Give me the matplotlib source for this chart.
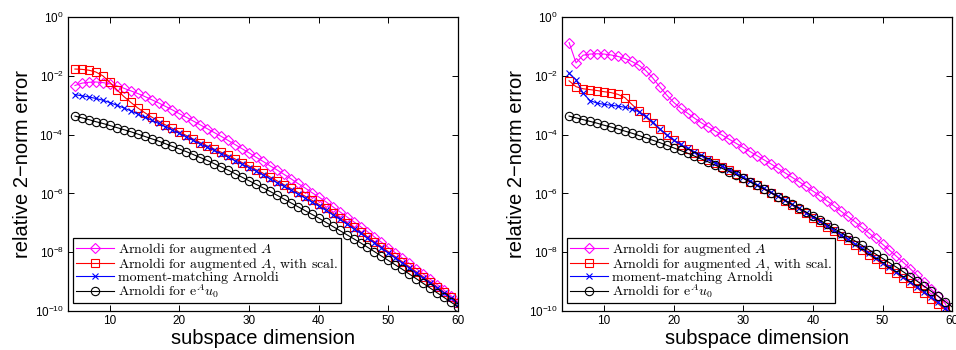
import numpy as np
import matplotlib
matplotlib.use("Agg")
import matplotlib.pyplot as plt
from matplotlib.ticker import NullLocator, FixedLocator
from matplotlib.font_manager import FontProperties

plt.rcParams['font.family'] = ['Liberation Sans', 'DejaVu Sans']
plt.rcParams['mathtext.fontset'] = 'custom'
plt.rcParams['mathtext.rm'] = 'Liberation Sans'
plt.rcParams['mathtext.it'] = 'Liberation Sans:italic'

# subspace dimension
dims = list(range(5, 61))

# log10 of relative 2-norm error (n = 5 ... 60)
left_aug = [-2.33, -2.25, -2.22, -2.21, -2.23, -2.27, -2.34, -2.42, -2.51, -2.60,
            -2.70, -2.81, -2.92, -3.04, -3.16, -3.29, -3.41, -3.54, -3.67, -3.80,
            -3.93, -4.06, -4.20, -4.34, -4.48, -4.62, -4.77, -4.91, -5.06, -5.20,
            -5.35, -5.50, -5.66, -5.81, -5.97, -6.12, -6.28, -6.45, -6.62, -6.79,
            -6.96, -7.13, -7.30, -7.48, -7.66, -7.84, -8.02, -8.20, -8.38, -8.56,
            -8.74, -8.92, -9.10, -9.29, -9.48, -9.68]
left_scal = [-1.77, -1.78, -1.81, -1.87, -2.00, -2.22, -2.47, -2.70, -2.90, -3.09,
             -3.25, -3.40, -3.54, -3.67, -3.79, -3.91, -4.03, -4.15, -4.27, -4.38,
             -4.49, -4.60, -4.71, -4.83, -4.95, -5.07, -5.19, -5.31, -5.44, -5.57,
             -5.70, -5.83, -5.96, -6.09, -6.23, -6.37, -6.51, -6.67, -6.83, -6.99,
             -7.15, -7.31, -7.47, -7.64, -7.81, -7.98, -8.15, -8.32, -8.49, -8.66,
             -8.83, -9.00, -9.18, -9.36, -9.54, -9.72]
left_mm = [-2.64, -2.68, -2.72, -2.77, -2.83, -2.91, -3.00, -3.09, -3.19, -3.30,
           -3.40, -3.51, -3.62, -3.73, -3.85, -3.96, -4.08, -4.20, -4.32, -4.43,
           -4.54, -4.65, -4.77, -4.89, -5.01, -5.12, -5.24, -5.37, -5.50, -5.63,
           -5.76, -5.89, -6.02, -6.15, -6.29, -6.43, -6.57, -6.72, -6.88, -7.04,
           -7.20, -7.36, -7.52, -7.68, -7.85, -8.02, -8.19, -8.36, -8.53, -8.70,
           -8.87, -9.04, -9.21, -9.39, -9.57, -9.75]
left_exp = [-3.37, -3.43, -3.49, -3.56, -3.62, -3.69, -3.76, -3.83, -3.90, -3.98,
            -4.06, -4.14, -4.22, -4.31, -4.40, -4.49, -4.58, -4.68, -4.78, -4.88,
            -4.99, -5.10, -5.21, -5.33, -5.45, -5.57, -5.69, -5.81, -5.93, -6.06,
            -6.19, -6.32, -6.45, -6.58, -6.71, -6.84, -6.98, -7.12, -7.26, -7.40,
            -7.54, -7.68, -7.83, -7.98, -8.13, -8.28, -8.43, -8.58, -8.74, -8.90,
            -9.06, -9.22, -9.38, -9.54, -9.70, -9.86]

right_aug = [-0.87, -1.56, -1.30, -1.26, -1.25, -1.26, -1.29, -1.34, -1.41, -1.51,
             -1.64, -1.82, -2.07, -2.37, -2.65, -2.90, -3.10, -3.27, -3.44, -3.60,
             -3.74, -3.88, -4.02, -4.16, -4.30, -4.44, -4.58, -4.72, -4.86, -5.00,
             -5.15, -5.30, -5.45, -5.60, -5.76, -5.92, -6.08, -6.25, -6.42, -6.60,
             -6.78, -6.96, -7.15, -7.34, -7.53, -7.73, -7.93, -8.14, -8.35, -8.57,
             -8.79, -9.02, -9.26, -9.50, -9.75, -10.25]
right_scal = [-2.17, -2.37, -2.44, -2.47, -2.50, -2.54, -2.57, -2.63, -2.74, -2.97,
              -3.19, -3.41, -3.61, -3.82, -4.02, -4.20, -4.35, -4.49, -4.61, -4.73,
              -4.85, -4.97, -5.09, -5.21, -5.34, -5.47, -5.60, -5.73, -5.86, -5.99,
              -6.12, -6.26, -6.40, -6.54, -6.68, -6.83, -6.98, -7.14, -7.29, -7.44,
              -7.60, -7.76, -7.92, -8.08, -8.24, -8.40, -8.56, -8.72, -8.89, -9.06,
              -9.23, -9.40, -9.58, -9.76, -9.95, -10.25]
right_mm = [-1.92, -2.13, -2.59, -2.84, -2.93, -2.97, -3.00, -3.03, -3.07, -3.13,
            -3.22, -3.38, -3.58, -3.80, -4.00, -4.18, -4.33, -4.47, -4.59, -4.71,
            -4.83, -4.95, -5.07, -5.19, -5.31, -5.44, -5.57, -5.70, -5.83, -5.96,
            -6.09, -6.23, -6.37, -6.51, -6.65, -6.80, -6.95, -7.10, -7.25, -7.40,
            -7.55, -7.71, -7.87, -8.03, -8.19, -8.35, -8.51, -8.67, -8.84, -9.01,
            -9.18, -9.35, -9.53, -9.71, -9.90, -10.25]
right_exp = [-3.37, -3.43, -3.49, -3.55, -3.61, -3.68, -3.74, -3.81, -3.88, -3.95,
             -4.03, -4.11, -4.19, -4.27, -4.36, -4.45, -4.54, -4.63, -4.73, -4.83,
             -4.93, -5.04, -5.15, -5.26, -5.37, -5.49, -5.61, -5.73, -5.85, -5.98,
             -6.11, -6.24, -6.37, -6.50, -6.63, -6.77, -6.91, -7.05, -7.19, -7.33,
             -7.47, -7.61, -7.76, -7.91, -8.06, -8.21, -8.36, -8.51, -8.67, -8.83,
             -8.99, -9.16, -9.33, -9.50, -9.68, -9.86]

labels = ['Arnoldi for augmented $A$',
          'Arnoldi for augmented $A$, with scal.',
          'moment-matching Arnoldi',
          r'Arnoldi for e$^{A}u_0$']
styles = [dict(color='#FF00FF', marker='D', ms=5.5, mfc='none'),
          dict(color='#FF0000', marker='s', ms=5.5, mfc='none'),
          dict(color='#0000FF', marker='x', ms=4.5),
          dict(color='#000000', marker='o', ms=6, mfc='none')]

fig = plt.figure(figsize=(9.56, 3.5), dpi=100)
ax1 = fig.add_axes([0.0711, 0.1114, 0.408, 0.84])
ax2 = fig.add_axes([0.588, 0.1114, 0.408, 0.84])

leg_font = FontProperties(family='cmr10', size=10, math_fontfamily='cm')

for ax, series in [(ax1, [left_aug, left_scal, left_mm, left_exp]),
                   (ax2, [right_aug, right_scal, right_mm, right_exp])]:
    for vals, lab, st in zip(series, labels, styles):
        ax.semilogy(dims, 10.0 ** np.array(vals), label=lab, lw=0.8, mew=0.8, **st)
    ax.set_xlim(4, 60)
    ax.set_ylim(1e-10, 1)
    ax.xaxis.set_major_locator(FixedLocator([10, 20, 30, 40, 50, 60]))
    ax.yaxis.set_major_locator(FixedLocator([1e-10, 1e-8, 1e-6, 1e-4, 1e-2, 1e0]))
    ax.yaxis.set_minor_locator(NullLocator())
    ax.tick_params(direction='in', top=True, right=True, length=4, width=0.7,
                   labelsize=8.5, pad=3)
    for sp in ax.spines.values():
        sp.set_linewidth(0.9)
    ax.set_xlabel('subspace dimension', fontsize=14.5, labelpad=1)
    ax.set_ylabel('relative 2\u2212norm error', fontsize=14.5, labelpad=2)
    leg = ax.legend(loc='lower left', bbox_to_anchor=(0.0128, 0.027), borderaxespad=0,
                    prop=leg_font, handlelength=2.75, handletextpad=0.3,
                    labelspacing=-0.12, borderpad=0.2, numpoints=1,
                    fancybox=False, edgecolor='black', framealpha=1)
    leg.get_frame().set_linewidth(0.9)

fig.savefig('out.png', dpi=100)
